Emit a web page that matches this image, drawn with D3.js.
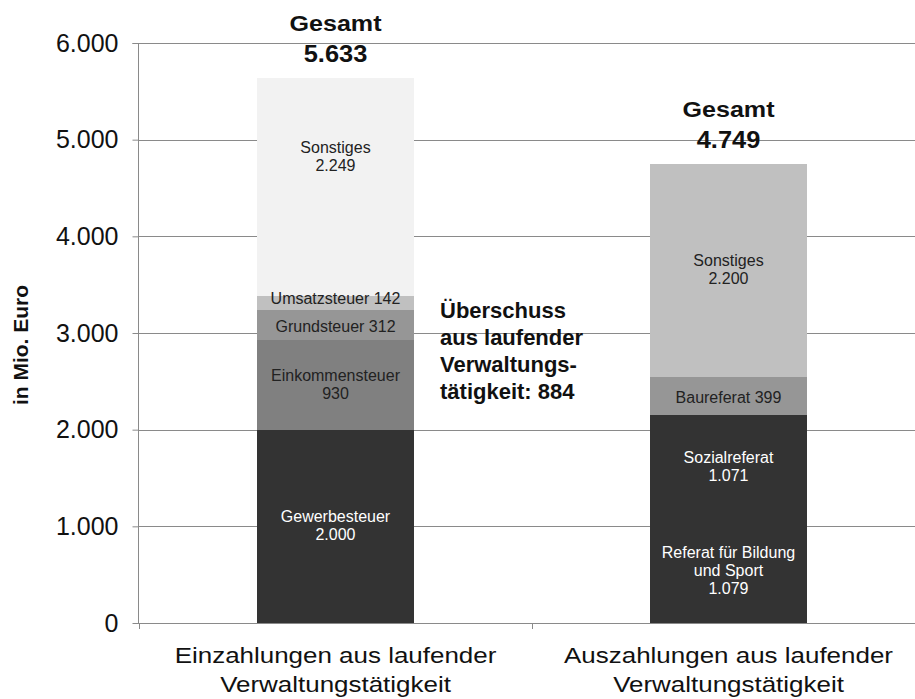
<!DOCTYPE html>
<html>
<head>
<meta charset="utf-8">
<script src="https://cdn.jsdelivr.net/npm/d3@7"></script>
<style>
  body { margin: 0; background: #fff; }
  svg { display: block; font-family: "Liberation Sans", Arial, sans-serif; }
</style>
</head>
<body>
<svg id="chart" width="915" height="699"></svg>
<script>
// data
const categories = ['Einzahlungen aus laufender Verwaltungstätigkeit', 'Auszahlungen aus laufender Verwaltungstätigkeit']
const categoryLines = [['Einzahlungen aus laufender', 'Verwaltungstätigkeit'], ['Auszahlungen aus laufender', 'Verwaltungstätigkeit']]
const einSegments = ['Gewerbesteuer', 'Einkommensteuer', 'Grundsteuer', 'Umsatzsteuer', 'Sonstiges']
const einValues = [2000, 930, 312, 142, 2249]
const einLabels = [['Gewerbesteuer', '2.000'], ['Einkommensteuer', '930'], ['Grundsteuer 312'], ['Umsatzsteuer 142'], ['Sonstiges', '2.249']]
const ausSegments = ['Referat für Bildung und Sport', 'Sozialreferat', 'Baureferat', 'Sonstiges']
const ausValues = [1079, 1071, 399, 2200]
const ausLabels = [['Referat für Bildung', 'und Sport', '1.079'], ['Sozialreferat', '1.071'], ['Baureferat 399'], ['Sonstiges', '2.200']]
const totals = [5633, 4749]
const surplusLines = ['Überschuss', 'aus laufender', 'Verwaltungs-', 'tätigkeit: 884']
const yTicks = [0, 1000, 2000, 3000, 4000, 5000, 6000]

const einColors = ['#333333', '#808080', '#969696', '#c0c0c0', '#f2f2f2']
const ausColors = ['#333333', '#333333', '#969696', '#c0c0c0']

const de = d3.formatLocale({decimal: ',', thousands: '.', grouping: [3], currency: ['', ' €']})
const fmt = de.format(',')

const svg = d3.select('#chart')
const plotLeft = 138, plotTop = 43, plotBottom = 623

const y = d3.scaleLinear().domain([0, 6000]).range([plotBottom, plotTop])
const x = d3.scaleBand().domain(categories).range([139, 925]).paddingInner(0.6).paddingOuter(0.3)

// gridlines
svg.append('g')
    .selectAll('line')
    .data(yTicks.filter(d => d > 0))
    .join('line')
    .attr('x1', plotLeft).attr('x2', 915)
    .attr('y1', d => Math.round(y(d)) + 0.5).attr('y2', d => Math.round(y(d)) + 0.5)
    .attr('stroke', '#8a8a8a').attr('stroke-width', 1)

// y axis
const yAxis = svg.append('g')
    .attr('transform', `translate(${plotLeft + 0.5},0)`)
    .call(d3.axisLeft(y).tickValues(yTicks).tickFormat(fmt).tickSize(6).tickPadding(14))
yAxis.select('.domain').attr('stroke', '#8a8a8a').attr('d', `M-6,${plotTop + 0.5}H0V${plotBottom + 0.5}`)
yAxis.selectAll('.tick line').attr('stroke', '#8a8a8a')
yAxis.selectAll('.tick text')
    .attr('font-size', 25).attr('fill', '#111')
    .attr('font-family', '"Liberation Sans", Arial, sans-serif')

svg.append('text')
    .attr('transform', 'translate(28,345) rotate(-90)')
    .attr('text-anchor', 'middle')
    .attr('font-size', 21).attr('font-weight', 'bold').attr('fill', '#111')
    .text('in Mio. Euro')

const stack = (vals) => {
    let acc = 0
    return vals.map(v => { const s = {y0: acc, y1: acc + v}; acc += v; return s })
}

const drawBar = (cat, vals, colors, labels, shifts) => {
    const segs = stack(vals)
    const g = svg.append('g')
    g.selectAll('rect')
        .data(segs)
        .join('rect')
        .attr('x', x(cat))
        .attr('width', x.bandwidth())
        .attr('y', d => y(d.y1))
        .attr('height', d => y(d.y0) - y(d.y1))
        .attr('fill', (d, i) => colors[i])
        .attr('shape-rendering', 'crispEdges')
    segs.forEach((s, i) => {
        const lines = labels[i]
        const lh = 18
        const cy = (y(s.y0) + y(s.y1)) / 2 + (shifts[i] || 0)
        const t = g.append('text')
            .attr('text-anchor', 'middle')
            .attr('font-size', 16)
            .attr('fill', colors[i] === '#333333' ? '#ffffff' : '#222222')
        lines.forEach((ln, j) => {
            t.append('tspan')
                .attr('x', x(cat) + x.bandwidth() / 2)
                .attr('y', cy + (j - (lines.length - 1) / 2) * lh + 5)
                .text(ln)
        })
    })
}

drawBar(categories[0], einValues, einColors, einLabels, [0, 0, 2, -4, -30])
drawBar(categories[1], ausValues, ausColors, ausLabels, [0, 0, 2, 0])

// totals
totals.forEach((t, i) => {
    const cx = x(categories[i]) + x.bandwidth() / 2
    const base = y(t) - 16
    svg.append('text')
        .attr('transform', `translate(${cx},${base - 31}) scale(1.14,1)`)
        .attr('text-anchor', 'middle')
        .attr('font-size', 22).attr('font-weight', 'bold').attr('fill', '#111')
        .text('Gesamt')
    svg.append('text')
        .attr('transform', `translate(${cx},${base}) scale(1.06,1)`)
        .attr('text-anchor', 'middle')
        .attr('font-size', 24).attr('font-weight', 'bold').attr('fill', '#111')
        .text(fmt(t))
})

// x axis
const xg = svg.append('g')
xg.append('line')
    .attr('x1', plotLeft).attr('x2', 915)
    .attr('y1', plotBottom + 0.5).attr('y2', plotBottom + 0.5)
    .attr('stroke', '#8a8a8a')
const step = x.step()
;[x(categories[0]) - x.paddingOuter() * step, x(categories[1]) - x.paddingInner() * step / 2].forEach(px => {
    xg.append('line')
        .attr('x1', Math.round(px) + 0.5).attr('x2', Math.round(px) + 0.5)
        .attr('y1', plotBottom).attr('y2', plotBottom + 6)
        .attr('stroke', '#8a8a8a')
})
categories.forEach((c, i) => {
    const cx = x(c) + x.bandwidth() / 2
    categoryLines[i].forEach((ln, j) => {
        xg.append('text')
            .attr('transform', `translate(${cx},${663 + j * 29}) scale(1.18,1)`)
            .attr('text-anchor', 'middle')
            .attr('font-size', 22).attr('fill', '#111')
            .text(ln)
    })
})

// surplus annotation
const st = svg.append('text')
    .attr('font-size', 22).attr('font-weight', 'bold').attr('fill', '#111')
surplusLines.forEach((ln, j) => {
    st.append('tspan').attr('x', 440).attr('y', 318 + j * 27).text(ln)
})
</script>
</body>
</html>
